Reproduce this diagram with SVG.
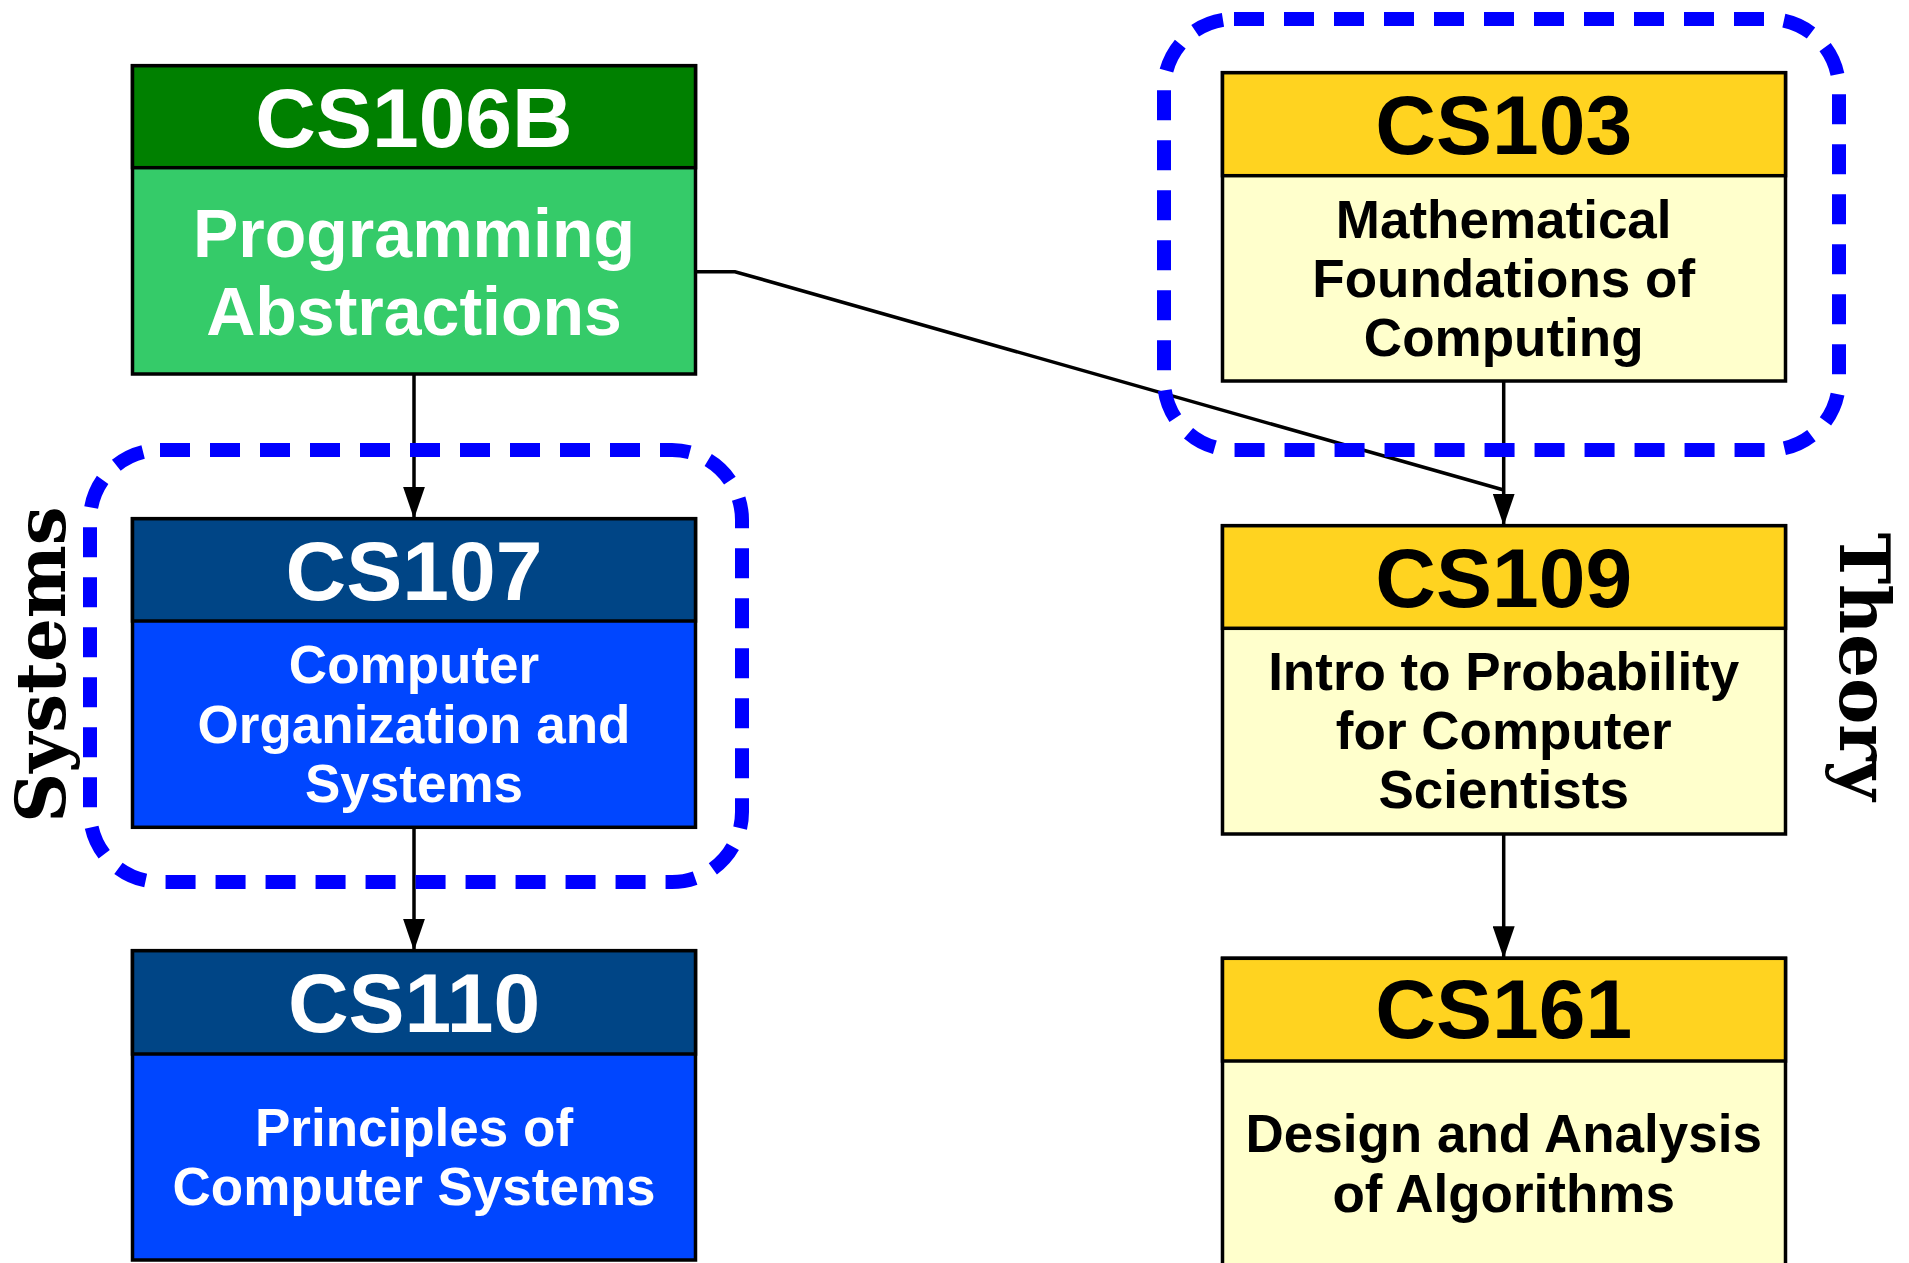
<svg xmlns="http://www.w3.org/2000/svg" width="1909" height="1263" viewBox="0 0 1909 1263">
  <defs>
    <marker id="arrow" markerWidth="32" markerHeight="22" refX="32" refY="11" viewBox="0 0 32 22" markerUnits="userSpaceOnUse" orient="auto">
      <path d="M0,0 L32,11 L0,22 Z" fill="#000"/>
    </marker>
    <style>
      .box { stroke: #000; stroke-width: 3.5; }
      .title { font-family: "Liberation Sans", Arial, sans-serif; font-weight: bold; font-size: 84px; text-anchor: middle; }
      .body { font-family: "Liberation Sans", Arial, sans-serif; font-weight: bold; font-size: 53px; text-anchor: middle; }
      .big { font-size: 68px; }
      .white { fill: #fff; }
      .black { fill: #000; }
      .g1h { fill: #008000; } .g1b { fill: #35CB69; }
      .bh { fill: #004586; } .bb { fill: #0046FF; }
      .yh { fill: #FFD320; } .yb { fill: #FFFFCC; }
      .conn { fill: none; stroke: #000; stroke-width: 3.5; }
      .group { fill: none; stroke: #0000FF; stroke-width: 14; stroke-dasharray: 30 20; }
      .side { font-family: "DejaVu Serif", "Liberation Serif", serif; font-weight: bold; font-size: 69px; text-anchor: middle; fill: #000; }
    </style>
  </defs>
  <rect width="1909" height="1263" fill="#fff"/>

  <g id="connectors">
    <path class="conn" d="M414,374 V518.7" marker-end="url(#arrow)"/>
    <path class="conn" d="M414,827.3 V950.7" marker-end="url(#arrow)"/>
    <path class="conn" d="M1503.7,381 V525.7" marker-end="url(#arrow)"/>
    <path class="conn" d="M695.5,271.7 H735 L1503.7,490"/>
    <path class="conn" d="M1503.7,834 V958.3" marker-end="url(#arrow)"/>
  </g>

  <g id="node-cs106b">
    <rect class="box g1b" x="132.5" y="65.7" width="563" height="308.3"/>
    <rect class="box g1h" x="132.5" y="65.7" width="563" height="102"/>
    <text class="title white" x="414" y="147.3">CS106B</text>
    <text class="body big white" x="414" y="257.3">Programming</text>
    <text class="body big white" x="414" y="334.7">Abstractions</text>
  </g>

  <g id="node-cs107">
    <rect class="box bb" x="132.5" y="518.7" width="563" height="308.6"/>
    <rect class="box bh" x="132.5" y="518.7" width="563" height="102.3"/>
    <text class="title white" x="414" y="600">CS107</text>
    <text class="body white" x="414" y="683.3">Computer</text>
    <text class="body white" x="414" y="742.7">Organization and</text>
    <text class="body white" x="414" y="801.7">Systems</text>
  </g>

  <g id="node-cs110">
    <rect class="box bb" x="132.5" y="950.7" width="563" height="309.3"/>
    <rect class="box bh" x="132.5" y="950.7" width="563" height="103.3"/>
    <text class="title white" x="414" y="1031.7">CS110</text>
    <text class="body white" x="414" y="1145.7">Principles of</text>
    <text class="body white" x="414" y="1205">Computer Systems</text>
  </g>

  <g id="node-cs103">
    <rect class="box yb" x="1222.5" y="72.7" width="563" height="308.3"/>
    <rect class="box yh" x="1222.5" y="72.7" width="563" height="103"/>
    <text class="title black" x="1503.7" y="154">CS103</text>
    <text class="body black" x="1503.7" y="238.3">Mathematical</text>
    <text class="body black" x="1503.7" y="296.7">Foundations of</text>
    <text class="body black" x="1503.7" y="356">Computing</text>
  </g>

  <g id="node-cs109">
    <rect class="box yb" x="1222.5" y="525.7" width="563" height="308.3"/>
    <rect class="box yh" x="1222.5" y="525.7" width="563" height="102.6"/>
    <text class="title black" x="1503.7" y="606.7">CS109</text>
    <text class="body black" x="1503.7" y="690">Intro to Probability</text>
    <text class="body black" x="1503.7" y="749.3">for Computer</text>
    <text class="body black" x="1503.7" y="808.3">Scientists</text>
  </g>

  <g id="node-cs161">
    <rect class="box yb" x="1222.5" y="958.3" width="563" height="310"/>
    <rect class="box yh" x="1222.5" y="958.3" width="563" height="102.7"/>
    <text class="title black" x="1503.7" y="1038.3">CS161</text>
    <text class="body black" x="1503.7" y="1152.3">Design and Analysis</text>
    <text class="body black" x="1503.7" y="1211.7">of Algorithms</text>
  </g>

  <g id="group-systems">
    <rect class="group" x="90" y="450" width="652" height="432" rx="70" ry="70"/>
    <text class="side" transform="translate(65,664.5) rotate(-90)">Systems</text>
  </g>

  <g id="group-theory">
    <rect class="group" x="1164" y="19" width="675" height="431" rx="70" ry="70"/>
    <text class="side" transform="translate(1840,666.7) rotate(90)">Theory</text>
  </g>
</svg>
